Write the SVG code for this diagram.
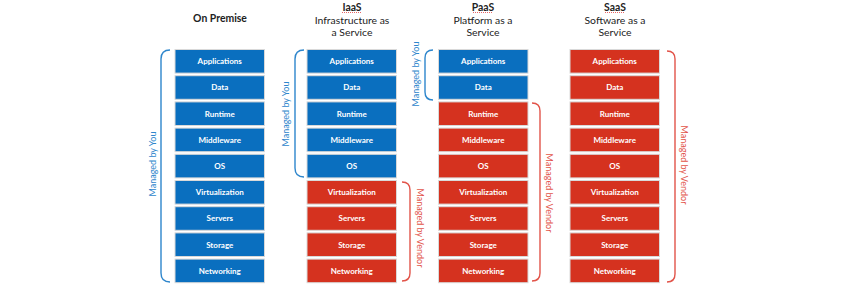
<svg xmlns="http://www.w3.org/2000/svg" width="844" height="287" viewBox="0 0 844 287">
<style>
text{font-family:Lato,"Liberation Sans",Arial,sans-serif}
.hd{font-size:10.4px;fill:#222;text-anchor:middle}
.b{font-weight:bold}
.box{stroke:#d9d9d9;stroke-width:1}
.you{fill:#0a6fbf}
.ven{fill:#d5321f}
.lbl{font-size:8px;font-weight:bold;fill:#fff;text-anchor:middle}
.br{fill:none;stroke-width:1.4}
.bb{stroke:#2e86cc}
.bv{stroke:#e2544a}
.mt{font-size:9px;text-anchor:middle;dominant-baseline:central}
.mb{fill:#2e86cc}
.mv{fill:#e2544a}
.sq{stroke:#e04040;stroke-width:0.8;stroke-dasharray:1 1;fill:none}
</style>
<rect width="844" height="287" fill="#fff"/>

<g id="headers">
<text class="hd b" x="220" y="22">On Premise</text>
<text class="hd b" x="352" y="10.5">IaaS</text>
<text class="hd" x="352" y="24">Infrastructure as</text>
<text class="hd" x="352" y="36">a Service</text>
<text class="hd b" x="483" y="10.5">PaaS</text>
<text class="hd" x="483" y="24">Platform as a</text>
<text class="hd" x="483" y="36">Service</text>
<text class="hd b" x="615" y="10.5">SaaS</text>
<text class="hd" x="615" y="24">Software as a</text>
<text class="hd" x="615" y="36">Service</text>
<path class="sq" d="M342,12.5 H362 M473,12.5 H493 M605,12.5 H625"/>
</g>

<g id="onpremise">
<rect class="box you" x="175" y="49.5" width="89.5" height="23.6"/><text class="lbl" x="219.75" y="64.2">Applications</text>
<rect class="box you" x="175" y="75.7" width="89.5" height="23.6"/><text class="lbl" x="219.75" y="90.4">Data</text>
<rect class="box you" x="175" y="101.9" width="89.5" height="23.6"/><text class="lbl" x="219.75" y="116.6">Runtime</text>
<rect class="box you" x="175" y="128.1" width="89.5" height="23.6"/><text class="lbl" x="219.75" y="142.8">Middleware</text>
<rect class="box you" x="175" y="154.3" width="89.5" height="23.6"/><text class="lbl" x="219.75" y="169">OS</text>
<rect class="box you" x="175" y="180.5" width="89.5" height="23.6"/><text class="lbl" x="219.75" y="195.2">Virtualization</text>
<rect class="box you" x="175" y="206.7" width="89.5" height="23.6"/><text class="lbl" x="219.75" y="221.4">Servers</text>
<rect class="box you" x="175" y="232.9" width="89.5" height="23.6"/><text class="lbl" x="219.75" y="247.6">Storage</text>
<rect class="box you" x="175" y="259.1" width="89.5" height="23.6"/><text class="lbl" x="219.75" y="273.8">Networking</text>
</g>

<g id="iaas">
<rect class="box you" x="307" y="49.5" width="89.5" height="23.6"/><text class="lbl" x="351.75" y="64.2">Applications</text>
<rect class="box you" x="307" y="75.7" width="89.5" height="23.6"/><text class="lbl" x="351.75" y="90.4">Data</text>
<rect class="box you" x="307" y="101.9" width="89.5" height="23.6"/><text class="lbl" x="351.75" y="116.6">Runtime</text>
<rect class="box you" x="307" y="128.1" width="89.5" height="23.6"/><text class="lbl" x="351.75" y="142.8">Middleware</text>
<rect class="box you" x="307" y="154.3" width="89.5" height="23.6"/><text class="lbl" x="351.75" y="169">OS</text>
<rect class="box ven" x="307" y="180.5" width="89.5" height="23.6"/><text class="lbl" x="351.75" y="195.2">Virtualization</text>
<rect class="box ven" x="307" y="206.7" width="89.5" height="23.6"/><text class="lbl" x="351.75" y="221.4">Servers</text>
<rect class="box ven" x="307" y="232.9" width="89.5" height="23.6"/><text class="lbl" x="351.75" y="247.6">Storage</text>
<rect class="box ven" x="307" y="259.1" width="89.5" height="23.6"/><text class="lbl" x="351.75" y="273.8">Networking</text>
</g>

<g id="paas">
<rect class="box you" x="438.5" y="49.5" width="89.5" height="23.6"/><text class="lbl" x="483.25" y="64.2">Applications</text>
<rect class="box you" x="438.5" y="75.7" width="89.5" height="23.6"/><text class="lbl" x="483.25" y="90.4">Data</text>
<rect class="box ven" x="438.5" y="101.9" width="89.5" height="23.6"/><text class="lbl" x="483.25" y="116.6">Runtime</text>
<rect class="box ven" x="438.5" y="128.1" width="89.5" height="23.6"/><text class="lbl" x="483.25" y="142.8">Middleware</text>
<rect class="box ven" x="438.5" y="154.3" width="89.5" height="23.6"/><text class="lbl" x="483.25" y="169">OS</text>
<rect class="box ven" x="438.5" y="180.5" width="89.5" height="23.6"/><text class="lbl" x="483.25" y="195.2">Virtualization</text>
<rect class="box ven" x="438.5" y="206.7" width="89.5" height="23.6"/><text class="lbl" x="483.25" y="221.4">Servers</text>
<rect class="box ven" x="438.5" y="232.9" width="89.5" height="23.6"/><text class="lbl" x="483.25" y="247.6">Storage</text>
<rect class="box ven" x="438.5" y="259.1" width="89.5" height="23.6"/><text class="lbl" x="483.25" y="273.8">Networking</text>
</g>

<g id="saas">
<rect class="box ven" x="570" y="49.5" width="89.5" height="23.6"/><text class="lbl" x="614.75" y="64.2">Applications</text>
<rect class="box ven" x="570" y="75.7" width="89.5" height="23.6"/><text class="lbl" x="614.75" y="90.4">Data</text>
<rect class="box ven" x="570" y="101.9" width="89.5" height="23.6"/><text class="lbl" x="614.75" y="116.6">Runtime</text>
<rect class="box ven" x="570" y="128.1" width="89.5" height="23.6"/><text class="lbl" x="614.75" y="142.8">Middleware</text>
<rect class="box ven" x="570" y="154.3" width="89.5" height="23.6"/><text class="lbl" x="614.75" y="169">OS</text>
<rect class="box ven" x="570" y="180.5" width="89.5" height="23.6"/><text class="lbl" x="614.75" y="195.2">Virtualization</text>
<rect class="box ven" x="570" y="206.7" width="89.5" height="23.6"/><text class="lbl" x="614.75" y="221.4">Servers</text>
<rect class="box ven" x="570" y="232.9" width="89.5" height="23.6"/><text class="lbl" x="614.75" y="247.6">Storage</text>
<rect class="box ven" x="570" y="259.1" width="89.5" height="23.6"/><text class="lbl" x="614.75" y="273.8">Networking</text>
</g>

<g id="brackets">
<path class="br bb" d="M170,50 Q161,50 161,59 V273 Q161,282 170,282"/>
<path class="br bb" d="M304,50 Q295,50 295,59 V168 Q295,177 304,177"/>
<path class="br bb" d="M433,50 Q425,50 425,58 V92 Q425,100 433,100"/>
<path class="br bv" d="M402,182 Q410,182 410,190 V273 Q410,281 402,281"/>
<path class="br bv" d="M532,103 Q540,103 540,111 V273 Q540,281 532,281"/>
<path class="br bv" d="M667,51 Q675,51 675,59 V274 Q675,282 667,282"/>
<text class="mt mb" transform="translate(152,164) rotate(-90)">Managed by You</text>
<text class="mt mb" transform="translate(285,114) rotate(-90)">Managed by You</text>
<text class="mt mb" transform="translate(415,74) rotate(-90)">Managed by You</text>
<text class="mt mv" transform="translate(420,228) rotate(90)">Managed by Vendor</text>
<text class="mt mv" transform="translate(549,193) rotate(90)">Managed by Vendor</text>
<text class="mt mv" transform="translate(684,165) rotate(90)">Managed by Vendor</text>
</g>
</svg>
